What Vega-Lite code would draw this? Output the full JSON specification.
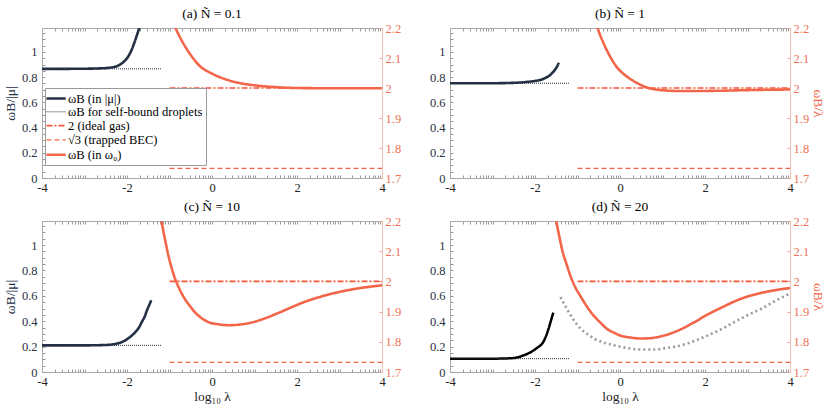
{
  "$schema": "https://vega.github.io/schema/vega-lite/v6.json",
  "padding": {"left": 3, "top": 6, "right": 2, "bottom": 2},
  "background": "white",
  "config": {
    "view": {"stroke": null},
    "font": "Liberation Serif, DejaVu Serif, serif",
    "title": {"font": "Liberation Serif, DejaVu Serif, serif", "fontSize": 13.5, "fontWeight": "normal", "color": "#000", "offset": 2},
    "axis": {"grid": false, "labelFont": "Liberation Serif, DejaVu Serif, serif", "labelFontSize": 12.5, "titleFont": "Liberation Serif, DejaVu Serif, serif", "titleFontSize": 13.5, "titleFontWeight": "normal", "labelOverlap": false, "labelFlush": false, "tickSize": -3, "labelPadding": 6},
    "legend": {"labelFont": "Liberation Serif, DejaVu Serif, serif"}
  },
  "data": {"values": [
    {"p":"a","ax":"L","s":"ωB (in |μ|)","x":-4,"y":0.866},
    {"p":"a","ax":"L","s":"ωB (in |μ|)","x":-3.5,"y":0.866},
    {"p":"a","ax":"L","s":"ωB (in |μ|)","x":-3,"y":0.867},
    {"p":"a","ax":"L","s":"ωB (in |μ|)","x":-2.7,"y":0.869},
    {"p":"a","ax":"L","s":"ωB (in |μ|)","x":-2.5,"y":0.872},
    {"p":"a","ax":"L","s":"ωB (in |μ|)","x":-2.35,"y":0.878},
    {"p":"a","ax":"L","s":"ωB (in |μ|)","x":-2.2,"y":0.893},
    {"p":"a","ax":"L","s":"ωB (in |μ|)","x":-2.1,"y":0.915},
    {"p":"a","ax":"L","s":"ωB (in |μ|)","x":-2.0,"y":0.95},
    {"p":"a","ax":"L","s":"ωB (in |μ|)","x":-1.9,"y":1.01},
    {"p":"a","ax":"L","s":"ωB (in |μ|)","x":-1.82,"y":1.08},
    {"p":"a","ax":"L","s":"ωB (in |μ|)","x":-1.76,"y":1.14},
    {"p":"a","ax":"L","s":"ωB (in |μ|)","x":-1.71,"y":1.19},
    {"p":"a","ax":"L","s":"ωB for self-bound droplets","x":-4,"y":0.866},
    {"p":"a","ax":"L","s":"ωB for self-bound droplets","x":-1.2,"y":0.866},
    {"p":"a","ax":"R","s":"2 (ideal gas)","x":-1,"y":2},
    {"p":"a","ax":"R","s":"2 (ideal gas)","x":4,"y":2},
    {"p":"a","ax":"R","s":"√3 (trapped BEC)","x":-1,"y":1.732},
    {"p":"a","ax":"R","s":"√3 (trapped BEC)","x":4,"y":1.732},
    {"p":"a","ax":"R","s":"ωB (in ω₀)","x":-0.86,"y":2.2},
    {"p":"a","ax":"R","s":"ωB (in ω₀)","x":-0.7,"y":2.155},
    {"p":"a","ax":"R","s":"ωB (in ω₀)","x":-0.5,"y":2.11},
    {"p":"a","ax":"R","s":"ωB (in ω₀)","x":-0.3,"y":2.075},
    {"p":"a","ax":"R","s":"ωB (in ω₀)","x":0,"y":2.048},
    {"p":"a","ax":"R","s":"ωB (in ω₀)","x":0.3,"y":2.03},
    {"p":"a","ax":"R","s":"ωB (in ω₀)","x":0.6,"y":2.018},
    {"p":"a","ax":"R","s":"ωB (in ω₀)","x":1.0,"y":2.009},
    {"p":"a","ax":"R","s":"ωB (in ω₀)","x":1.5,"y":2.003},
    {"p":"a","ax":"R","s":"ωB (in ω₀)","x":2.0,"y":2.0},
    {"p":"a","ax":"R","s":"ωB (in ω₀)","x":3.0,"y":1.999},
    {"p":"a","ax":"R","s":"ωB (in ω₀)","x":4.0,"y":1.999},

    {"p":"b","ax":"L","s":"ωB (in |μ|)","x":-4,"y":0.752},
    {"p":"b","ax":"L","s":"ωB (in |μ|)","x":-3,"y":0.752},
    {"p":"b","ax":"L","s":"ωB (in |μ|)","x":-2.5,"y":0.755},
    {"p":"b","ax":"L","s":"ωB (in |μ|)","x":-2.2,"y":0.762},
    {"p":"b","ax":"L","s":"ωB (in |μ|)","x":-2.0,"y":0.77},
    {"p":"b","ax":"L","s":"ωB (in |μ|)","x":-1.87,"y":0.778},
    {"p":"b","ax":"L","s":"ωB (in |μ|)","x":-1.75,"y":0.795},
    {"p":"b","ax":"L","s":"ωB (in |μ|)","x":-1.64,"y":0.818},
    {"p":"b","ax":"L","s":"ωB (in |μ|)","x":-1.55,"y":0.85},
    {"p":"b","ax":"L","s":"ωB (in |μ|)","x":-1.48,"y":0.885},
    {"p":"b","ax":"L","s":"ωB (in |μ|)","x":-1.44,"y":0.915},
    {"p":"b","ax":"L","s":"ωB for self-bound droplets","x":-4,"y":0.752},
    {"p":"b","ax":"L","s":"ωB for self-bound droplets","x":-1.2,"y":0.752},
    {"p":"b","ax":"R","s":"2 (ideal gas)","x":-1,"y":2},
    {"p":"b","ax":"R","s":"2 (ideal gas)","x":4,"y":2},
    {"p":"b","ax":"R","s":"√3 (trapped BEC)","x":-1,"y":1.732},
    {"p":"b","ax":"R","s":"√3 (trapped BEC)","x":4,"y":1.732},
    {"p":"b","ax":"R","s":"ωB (in ω₀)","x":-0.53,"y":2.2},
    {"p":"b","ax":"R","s":"ωB (in ω₀)","x":-0.42,"y":2.16},
    {"p":"b","ax":"R","s":"ωB (in ω₀)","x":-0.3,"y":2.123},
    {"p":"b","ax":"R","s":"ωB (in ω₀)","x":-0.18,"y":2.092},
    {"p":"b","ax":"R","s":"ωB (in ω₀)","x":-0.06,"y":2.067},
    {"p":"b","ax":"R","s":"ωB (in ω₀)","x":0.1,"y":2.045},
    {"p":"b","ax":"R","s":"ωB (in ω₀)","x":0.255,"y":2.029},
    {"p":"b","ax":"R","s":"ωB (in ω₀)","x":0.45,"y":2.013},
    {"p":"b","ax":"R","s":"ωB (in ω₀)","x":0.65,"y":2.001},
    {"p":"b","ax":"R","s":"ωB (in ω₀)","x":0.85,"y":1.995},
    {"p":"b","ax":"R","s":"ωB (in ω₀)","x":1.04,"y":1.992},
    {"p":"b","ax":"R","s":"ωB (in ω₀)","x":1.4,"y":1.99},
    {"p":"b","ax":"R","s":"ωB (in ω₀)","x":1.83,"y":1.99},
    {"p":"b","ax":"R","s":"ωB (in ω₀)","x":2.4,"y":1.991},
    {"p":"b","ax":"R","s":"ωB (in ω₀)","x":3.01,"y":1.993},
    {"p":"b","ax":"R","s":"ωB (in ω₀)","x":4,"y":1.995},

    {"p":"c","ax":"L","s":"ωB (in |μ|)","x":-4,"y":0.21},
    {"p":"c","ax":"L","s":"ωB (in |μ|)","x":-3,"y":0.21},
    {"p":"c","ax":"L","s":"ωB (in |μ|)","x":-2.5,"y":0.213},
    {"p":"c","ax":"L","s":"ωB (in |μ|)","x":-2.28,"y":0.221},
    {"p":"c","ax":"L","s":"ωB (in |μ|)","x":-2.15,"y":0.232},
    {"p":"c","ax":"L","s":"ωB (in |μ|)","x":-2.04,"y":0.25},
    {"p":"c","ax":"L","s":"ωB (in |μ|)","x":-1.92,"y":0.278},
    {"p":"c","ax":"L","s":"ωB (in |μ|)","x":-1.8,"y":0.316},
    {"p":"c","ax":"L","s":"ωB (in |μ|)","x":-1.72,"y":0.35},
    {"p":"c","ax":"L","s":"ωB (in |μ|)","x":-1.65,"y":0.395},
    {"p":"c","ax":"L","s":"ωB (in |μ|)","x":-1.58,"y":0.44},
    {"p":"c","ax":"L","s":"ωB (in |μ|)","x":-1.53,"y":0.487},
    {"p":"c","ax":"L","s":"ωB (in |μ|)","x":-1.48,"y":0.525},
    {"p":"c","ax":"L","s":"ωB (in |μ|)","x":-1.43,"y":0.566},
    {"p":"c","ax":"L","s":"ωB for self-bound droplets","x":-4,"y":0.21},
    {"p":"c","ax":"L","s":"ωB for self-bound droplets","x":-1.2,"y":0.21},
    {"p":"c","ax":"R","s":"2 (ideal gas)","x":-1,"y":2},
    {"p":"c","ax":"R","s":"2 (ideal gas)","x":4,"y":2},
    {"p":"c","ax":"R","s":"√3 (trapped BEC)","x":-1,"y":1.732},
    {"p":"c","ax":"R","s":"√3 (trapped BEC)","x":4,"y":1.732},
    {"p":"c","ax":"R","s":"ωB (in ω₀)","x":-1.19,"y":2.2},
    {"p":"c","ax":"R","s":"ωB (in ω₀)","x":-1.1,"y":2.135},
    {"p":"c","ax":"R","s":"ωB (in ω₀)","x":-1.02,"y":2.082},
    {"p":"c","ax":"R","s":"ωB (in ω₀)","x":-0.94,"y":2.04},
    {"p":"c","ax":"R","s":"ωB (in ω₀)","x":-0.86,"y":2.006},
    {"p":"c","ax":"R","s":"ωB (in ω₀)","x":-0.75,"y":1.97},
    {"p":"c","ax":"R","s":"ωB (in ω₀)","x":-0.63,"y":1.94},
    {"p":"c","ax":"R","s":"ωB (in ω₀)","x":-0.5,"y":1.915},
    {"p":"c","ax":"R","s":"ωB (in ω₀)","x":-0.39,"y":1.896},
    {"p":"c","ax":"R","s":"ωB (in ω₀)","x":-0.25,"y":1.879},
    {"p":"c","ax":"R","s":"ωB (in ω₀)","x":-0.08,"y":1.865},
    {"p":"c","ax":"R","s":"ωB (in ω₀)","x":0.15,"y":1.858},
    {"p":"c","ax":"R","s":"ωB (in ω₀)","x":0.4,"y":1.855},
    {"p":"c","ax":"R","s":"ωB (in ω₀)","x":0.65,"y":1.857},
    {"p":"c","ax":"R","s":"ωB (in ω₀)","x":0.94,"y":1.864},
    {"p":"c","ax":"R","s":"ωB (in ω₀)","x":1.25,"y":1.878},
    {"p":"c","ax":"R","s":"ωB (in ω₀)","x":1.57,"y":1.896},
    {"p":"c","ax":"R","s":"ωB (in ω₀)","x":1.85,"y":1.913},
    {"p":"c","ax":"R","s":"ωB (in ω₀)","x":2.12,"y":1.929},
    {"p":"c","ax":"R","s":"ωB (in ω₀)","x":2.5,"y":1.947},
    {"p":"c","ax":"R","s":"ωB (in ω₀)","x":2.9,"y":1.962},
    {"p":"c","ax":"R","s":"ωB (in ω₀)","x":3.4,"y":1.976},
    {"p":"c","ax":"R","s":"ωB (in ω₀)","x":4,"y":1.987},

    {"p":"d","ax":"L","s":"k","x":-4,"y":0.105},
    {"p":"d","ax":"L","s":"k","x":-3,"y":0.105},
    {"p":"d","ax":"L","s":"k","x":-2.5,"y":0.11},
    {"p":"d","ax":"L","s":"k","x":-2.27,"y":0.131},
    {"p":"d","ax":"L","s":"k","x":-2.15,"y":0.148},
    {"p":"d","ax":"L","s":"k","x":-2.03,"y":0.171},
    {"p":"d","ax":"L","s":"k","x":-1.93,"y":0.195},
    {"p":"d","ax":"L","s":"k","x":-1.83,"y":0.224},
    {"p":"d","ax":"L","s":"k","x":-1.75,"y":0.275},
    {"p":"d","ax":"L","s":"k","x":-1.68,"y":0.342},
    {"p":"d","ax":"L","s":"k","x":-1.62,"y":0.41},
    {"p":"d","ax":"L","s":"k","x":-1.57,"y":0.468},
    {"p":"d","ax":"L","s":"ωB for self-bound droplets","x":-4,"y":0.105},
    {"p":"d","ax":"L","s":"ωB for self-bound droplets","x":-1.2,"y":0.105},
    {"p":"d","ax":"L","s":"g","x":-1.4,"y":0.59},
    {"p":"d","ax":"L","s":"g","x":-1.28,"y":0.515},
    {"p":"d","ax":"L","s":"g","x":-1.16,"y":0.447},
    {"p":"d","ax":"L","s":"g","x":-1.05,"y":0.39},
    {"p":"d","ax":"L","s":"g","x":-0.93,"y":0.342},
    {"p":"d","ax":"L","s":"g","x":-0.77,"y":0.3},
    {"p":"d","ax":"L","s":"g","x":-0.61,"y":0.263},
    {"p":"d","ax":"L","s":"g","x":-0.4,"y":0.234},
    {"p":"d","ax":"L","s":"g","x":-0.14,"y":0.21},
    {"p":"d","ax":"L","s":"g","x":0.15,"y":0.19},
    {"p":"d","ax":"L","s":"g","x":0.49,"y":0.177},
    {"p":"d","ax":"L","s":"g","x":0.81,"y":0.177},
    {"p":"d","ax":"L","s":"g","x":1.1,"y":0.19},
    {"p":"d","ax":"L","s":"g","x":1.44,"y":0.21},
    {"p":"d","ax":"L","s":"g","x":1.75,"y":0.245},
    {"p":"d","ax":"L","s":"g","x":2.07,"y":0.289},
    {"p":"d","ax":"L","s":"g","x":2.4,"y":0.34},
    {"p":"d","ax":"L","s":"g","x":2.7,"y":0.395},
    {"p":"d","ax":"L","s":"g","x":3.0,"y":0.447},
    {"p":"d","ax":"L","s":"g","x":3.33,"y":0.5},
    {"p":"d","ax":"L","s":"g","x":3.65,"y":0.56},
    {"p":"d","ax":"L","s":"g","x":4,"y":0.618},
    {"p":"d","ax":"R","s":"2 (ideal gas)","x":-1,"y":2},
    {"p":"d","ax":"R","s":"2 (ideal gas)","x":4,"y":2},
    {"p":"d","ax":"R","s":"√3 (trapped BEC)","x":-1,"y":1.732},
    {"p":"d","ax":"R","s":"√3 (trapped BEC)","x":4,"y":1.732},
    {"p":"d","ax":"R","s":"ωB (in ω₀)","x":-1.5,"y":2.2},
    {"p":"d","ax":"R","s":"ωB (in ω₀)","x":-1.43,"y":2.15},
    {"p":"d","ax":"R","s":"ωB (in ω₀)","x":-1.36,"y":2.104},
    {"p":"d","ax":"R","s":"ωB (in ω₀)","x":-1.26,"y":2.058},
    {"p":"d","ax":"R","s":"ωB (in ω₀)","x":-1.16,"y":2.016},
    {"p":"d","ax":"R","s":"ωB (in ω₀)","x":-1.05,"y":1.98},
    {"p":"d","ax":"R","s":"ωB (in ω₀)","x":-0.93,"y":1.951},
    {"p":"d","ax":"R","s":"ωB (in ω₀)","x":-0.77,"y":1.915},
    {"p":"d","ax":"R","s":"ωB (in ω₀)","x":-0.61,"y":1.885},
    {"p":"d","ax":"R","s":"ωB (in ω₀)","x":-0.45,"y":1.862},
    {"p":"d","ax":"R","s":"ωB (in ω₀)","x":-0.3,"y":1.842},
    {"p":"d","ax":"R","s":"ωB (in ω₀)","x":-0.14,"y":1.83},
    {"p":"d","ax":"R","s":"ωB (in ω₀)","x":0.02,"y":1.82},
    {"p":"d","ax":"R","s":"ωB (in ω₀)","x":0.25,"y":1.814},
    {"p":"d","ax":"R","s":"ωB (in ω₀)","x":0.49,"y":1.811},
    {"p":"d","ax":"R","s":"ωB (in ω₀)","x":0.72,"y":1.812},
    {"p":"d","ax":"R","s":"ωB (in ω₀)","x":0.96,"y":1.818},
    {"p":"d","ax":"R","s":"ωB (in ω₀)","x":1.2,"y":1.828},
    {"p":"d","ax":"R","s":"ωB (in ω₀)","x":1.44,"y":1.842},
    {"p":"d","ax":"R","s":"ωB (in ω₀)","x":1.75,"y":1.865},
    {"p":"d","ax":"R","s":"ωB (in ω₀)","x":2.07,"y":1.891},
    {"p":"d","ax":"R","s":"ωB (in ω₀)","x":2.4,"y":1.914},
    {"p":"d","ax":"R","s":"ωB (in ω₀)","x":2.7,"y":1.934},
    {"p":"d","ax":"R","s":"ωB (in ω₀)","x":3.0,"y":1.95},
    {"p":"d","ax":"R","s":"ωB (in ω₀)","x":3.33,"y":1.962},
    {"p":"d","ax":"R","s":"ωB (in ω₀)","x":3.65,"y":1.971},
    {"p":"d","ax":"R","s":"ωB (in ω₀)","x":4,"y":1.978}
  ]},
  "spacing": 5,
  "vconcat": [
    {"spacing": 28, "hconcat": [
      {"width": 340, "height": 150, "title": {"text": "(a) Ñ = 0.1", "font": "Liberation Serif, DejaVu Serif, serif", "fontWeight": "normal"},
       "resolve": {"scale": {"y": "independent"}, "axis": {"x": "independent"}},
       "layer": [
        {"transform": [{"filter": "datum.p == 'a' && datum.ax == 'L'"}],
         "mark": {"type": "line", "interpolate": "monotone", "clip": true},
         "encoding": {
          "x": {"field": "x", "type": "quantitative", "scale": {"domain": [-4, 4]}, "axis": {"orient": "bottom", "title": null, "values": [-4,-3.699,-3.523,-3.398,-3.301,-3.222,-3.155,-3.097,-3.046,-3,-2.699,-2.523,-2.398,-2.301,-2.222,-2.155,-2.097,-2.046,-2,-1.699,-1.523,-1.398,-1.301,-1.222,-1.155,-1.097,-1.046,-1,-0.699,-0.523,-0.398,-0.301,-0.222,-0.155,-0.097,-0.046,0,0.301,0.477,0.602,0.699,0.778,0.845,0.903,0.954,1,1.301,1.477,1.602,1.699,1.778,1.845,1.903,1.954,2,2.301,2.477,2.602,2.699,2.778,2.845,2.903,2.954,3,3.301,3.477,3.602,3.699,3.778,3.845,3.903,3.954,4], "labelExpr": "indexof([-4,-2,0,2,4], datum.value) >= 0 ? '' + datum.value : ''", "domainColor": "#aaaaaa", "tickColor": "#999999", "labelColor": "#222222"}},
          "y": {"field": "y", "type": "quantitative", "scale": {"domain": [0, 1.19]}, "axis": {"orient": "left", "title": "ωB/|μ|", "titleColor": "#243044", "values": [0,0.05,0.1,0.15,0.2,0.25,0.3,0.35,0.4,0.45,0.5,0.55,0.6,0.65,0.7,0.75,0.8,0.85,0.9,0.95,1,1.05,1.1,1.15], "labelExpr": "round(datum.value*100) % 20 == 0 ? '' + round(datum.value*10)/10 : ''", "domainColor": "#aaaaaa", "tickColor": "#999999", "labelColor": "#2a3040", "labelPadding": 8}},
          "color": {"field": "s", "type": "nominal", "scale": {"type": "ordinal", "domain": ["ωB (in |μ|)","ωB for self-bound droplets","2 (ideal gas)","√3 (trapped BEC)","ωB (in ω₀)","k","g"], "range": ["#243044","#243044","#f4583a","#f26548","#f26548","#000000","#9a9a9a"]}, "legend": {"title": null, "orient": "none", "legendX": 3, "legendY": 60, "values": ["ωB (in |μ|)","ωB for self-bound droplets","2 (ideal gas)","√3 (trapped BEC)","ωB (in ω₀)"], "symbolType": "M-1.5,0H1.7", "symbolSize": 144, "labelFont": "Liberation Serif, DejaVu Serif, serif", "labelFontSize": 12.5, "labelColor": "#000", "strokeColor": "#999", "fillColor": "#fff", "padding": 3, "rowPadding": 0.3, "labelOffset": 5}},
          "strokeDash": {"field": "s", "type": "nominal", "scale": {"type": "ordinal", "domain": ["ωB (in |μ|)","ωB for self-bound droplets","2 (ideal gas)","√3 (trapped BEC)","ωB (in ω₀)","k","g"], "range": [[1,0],[1,1],[6,2,2,2],[5,3],[1,0],[1,0],[2,3]]}, "legend": {"title": null, "orient": "none", "legendX": 3, "legendY": 60, "values": ["ωB (in |μ|)","ωB for self-bound droplets","2 (ideal gas)","√3 (trapped BEC)","ωB (in ω₀)"], "symbolType": "M-1.5,0H1.7", "symbolSize": 144, "labelFont": "Liberation Serif, DejaVu Serif, serif", "labelFontSize": 12.5, "labelColor": "#000", "strokeColor": "#999", "fillColor": "#fff", "padding": 3, "rowPadding": 0.3, "labelOffset": 5}},
          "strokeWidth": {"field": "s", "type": "nominal", "scale": {"type": "ordinal", "domain": ["ωB (in |μ|)","ωB for self-bound droplets","2 (ideal gas)","√3 (trapped BEC)","ωB (in ω₀)","k","g"], "range": [2.6,1,1.7,1.3,2.6,2.5,2.6]}, "legend": {"title": null, "orient": "none", "legendX": 3, "legendY": 60, "values": ["ωB (in |μ|)","ωB for self-bound droplets","2 (ideal gas)","√3 (trapped BEC)","ωB (in ω₀)"], "symbolType": "M-1.5,0H1.7", "symbolSize": 144, "labelFont": "Liberation Serif, DejaVu Serif, serif", "labelFontSize": 12.5, "labelColor": "#000", "strokeColor": "#999", "fillColor": "#fff", "padding": 3, "rowPadding": 0.3, "labelOffset": 5}}
         }},
        {"transform": [{"filter": "datum.p == 'a' && datum.ax == 'R'"}],
         "mark": {"type": "line", "interpolate": "monotone", "clip": true},
         "encoding": {
          "x": {"field": "x", "type": "quantitative", "scale": {"domain": [-4, 4]}, "axis": {"orient": "top", "title": null, "labels": false, "values": [-4,-3.699,-3.523,-3.398,-3.301,-3.222,-3.155,-3.097,-3.046,-3,-2.699,-2.523,-2.398,-2.301,-2.222,-2.155,-2.097,-2.046,-2,-1.699,-1.523,-1.398,-1.301,-1.222,-1.155,-1.097,-1.046,-1,-0.699,-0.523,-0.398,-0.301,-0.222,-0.155,-0.097,-0.046,0,0.301,0.477,0.602,0.699,0.778,0.845,0.903,0.954,1,1.301,1.477,1.602,1.699,1.778,1.845,1.903,1.954,2,2.301,2.477,2.602,2.699,2.778,2.845,2.903,2.954,3,3.301,3.477,3.602,3.699,3.778,3.845,3.903,3.954,4], "domainColor": "#aaaaaa", "tickColor": "#999999"}},
          "y": {"field": "y", "type": "quantitative", "scale": {"domain": [1.7, 2.2]}, "axis": {"orient": "right", "title": null, "values": [1.7,1.8,1.9,2,2.1,2.2], "labelExpr": "'' + round(datum.value*10)/10", "domainColor": "#f8bfb0", "tickColor": "#f4a090", "labelColor": "#f07358"}},
          "color": {"field": "s", "type": "nominal", "scale": {"type": "ordinal", "domain": ["ωB (in |μ|)","ωB for self-bound droplets","2 (ideal gas)","√3 (trapped BEC)","ωB (in ω₀)","k","g"], "range": ["#243044","#243044","#f4583a","#f26548","#f26548","#000000","#9a9a9a"]}},
          "strokeDash": {"field": "s", "type": "nominal", "scale": {"type": "ordinal", "domain": ["ωB (in |μ|)","ωB for self-bound droplets","2 (ideal gas)","√3 (trapped BEC)","ωB (in ω₀)","k","g"], "range": [[1,0],[1,1],[6,2,2,2],[5,3],[1,0],[1,0],[2,3]]}},
          "strokeWidth": {"field": "s", "type": "nominal", "scale": {"type": "ordinal", "domain": ["ωB (in |μ|)","ωB for self-bound droplets","2 (ideal gas)","√3 (trapped BEC)","ωB (in ω₀)","k","g"], "range": [2.6,1,1.7,1.3,2.6,2.5,2.6]}}
         }}
       ]},
      {"width": 340, "height": 150, "title": {"text": "(b) Ñ = 1", "font": "Liberation Serif, DejaVu Serif, serif", "fontWeight": "normal"},
       "resolve": {"scale": {"y": "independent"}, "axis": {"x": "independent"}},
       "layer": [
        {"transform": [{"filter": "datum.p == 'b' && datum.ax == 'L'"}],
         "mark": {"type": "line", "interpolate": "monotone", "clip": true},
         "encoding": {
          "x": {"field": "x", "type": "quantitative", "scale": {"domain": [-4, 4]}, "axis": {"orient": "bottom", "title": null, "values": [-4,-3.699,-3.523,-3.398,-3.301,-3.222,-3.155,-3.097,-3.046,-3,-2.699,-2.523,-2.398,-2.301,-2.222,-2.155,-2.097,-2.046,-2,-1.699,-1.523,-1.398,-1.301,-1.222,-1.155,-1.097,-1.046,-1,-0.699,-0.523,-0.398,-0.301,-0.222,-0.155,-0.097,-0.046,0,0.301,0.477,0.602,0.699,0.778,0.845,0.903,0.954,1,1.301,1.477,1.602,1.699,1.778,1.845,1.903,1.954,2,2.301,2.477,2.602,2.699,2.778,2.845,2.903,2.954,3,3.301,3.477,3.602,3.699,3.778,3.845,3.903,3.954,4], "labelExpr": "indexof([-4,-2,0,2,4], datum.value) >= 0 ? '' + datum.value : ''", "domainColor": "#aaaaaa", "tickColor": "#999999", "labelColor": "#222222"}},
          "y": {"field": "y", "type": "quantitative", "scale": {"domain": [0, 1.19]}, "axis": {"orient": "left", "title": null, "values": [0,0.05,0.1,0.15,0.2,0.25,0.3,0.35,0.4,0.45,0.5,0.55,0.6,0.65,0.7,0.75,0.8,0.85,0.9,0.95,1,1.05,1.1,1.15], "labelExpr": "round(datum.value*100) % 20 == 0 ? '' + round(datum.value*10)/10 : ''", "domainColor": "#aaaaaa", "tickColor": "#999999", "labelColor": "#2a3040", "labelPadding": 8}},
          "color": {"field": "s", "type": "nominal", "scale": {"type": "ordinal", "domain": ["ωB (in |μ|)","ωB for self-bound droplets","2 (ideal gas)","√3 (trapped BEC)","ωB (in ω₀)","k","g"], "range": ["#243044","#243044","#f4583a","#f26548","#f26548","#000000","#9a9a9a"]}},
          "strokeDash": {"field": "s", "type": "nominal", "scale": {"type": "ordinal", "domain": ["ωB (in |μ|)","ωB for self-bound droplets","2 (ideal gas)","√3 (trapped BEC)","ωB (in ω₀)","k","g"], "range": [[1,0],[1,1],[6,2,2,2],[5,3],[1,0],[1,0],[2,3]]}},
          "strokeWidth": {"field": "s", "type": "nominal", "scale": {"type": "ordinal", "domain": ["ωB (in |μ|)","ωB for self-bound droplets","2 (ideal gas)","√3 (trapped BEC)","ωB (in ω₀)","k","g"], "range": [2.6,1,1.7,1.3,2.6,2.5,2.6]}}
         }},
        {"transform": [{"filter": "datum.p == 'b' && datum.ax == 'R'"}],
         "mark": {"type": "line", "interpolate": "monotone", "clip": true},
         "encoding": {
          "x": {"field": "x", "type": "quantitative", "scale": {"domain": [-4, 4]}, "axis": {"orient": "top", "title": null, "labels": false, "values": [-4,-3.699,-3.523,-3.398,-3.301,-3.222,-3.155,-3.097,-3.046,-3,-2.699,-2.523,-2.398,-2.301,-2.222,-2.155,-2.097,-2.046,-2,-1.699,-1.523,-1.398,-1.301,-1.222,-1.155,-1.097,-1.046,-1,-0.699,-0.523,-0.398,-0.301,-0.222,-0.155,-0.097,-0.046,0,0.301,0.477,0.602,0.699,0.778,0.845,0.903,0.954,1,1.301,1.477,1.602,1.699,1.778,1.845,1.903,1.954,2,2.301,2.477,2.602,2.699,2.778,2.845,2.903,2.954,3,3.301,3.477,3.602,3.699,3.778,3.845,3.903,3.954,4], "domainColor": "#aaaaaa", "tickColor": "#999999"}},
          "y": {"field": "y", "type": "quantitative", "scale": {"domain": [1.7, 2.2]}, "axis": {"orient": "right", "title": "ωB/λ", "titleColor": "#f26548", "titlePadding": 2, "values": [1.7,1.8,1.9,2,2.1,2.2], "labelExpr": "'' + round(datum.value*10)/10", "domainColor": "#f8bfb0", "tickColor": "#f4a090", "labelColor": "#f07358"}},
          "color": {"field": "s", "type": "nominal", "scale": {"type": "ordinal", "domain": ["ωB (in |μ|)","ωB for self-bound droplets","2 (ideal gas)","√3 (trapped BEC)","ωB (in ω₀)","k","g"], "range": ["#243044","#243044","#f4583a","#f26548","#f26548","#000000","#9a9a9a"]}},
          "strokeDash": {"field": "s", "type": "nominal", "scale": {"type": "ordinal", "domain": ["ωB (in |μ|)","ωB for self-bound droplets","2 (ideal gas)","√3 (trapped BEC)","ωB (in ω₀)","k","g"], "range": [[1,0],[1,1],[6,2,2,2],[5,3],[1,0],[1,0],[2,3]]}},
          "strokeWidth": {"field": "s", "type": "nominal", "scale": {"type": "ordinal", "domain": ["ωB (in |μ|)","ωB for self-bound droplets","2 (ideal gas)","√3 (trapped BEC)","ωB (in ω₀)","k","g"], "range": [2.6,1,1.7,1.3,2.6,2.5,2.6]}}
         }}
       ]}
    ]},
    {"spacing": 28, "hconcat": [
      {"width": 340, "height": 151, "title": {"text": "(c) Ñ = 10", "font": "Liberation Serif, DejaVu Serif, serif", "fontWeight": "normal"},
       "resolve": {"scale": {"y": "independent"}, "axis": {"x": "independent"}},
       "layer": [
        {"transform": [{"filter": "datum.p == 'c' && datum.ax == 'L'"}],
         "mark": {"type": "line", "interpolate": "monotone", "clip": true},
         "encoding": {
          "x": {"field": "x", "type": "quantitative", "scale": {"domain": [-4, 4]}, "axis": {"orient": "bottom", "title": "log₁₀ λ", "values": [-4,-3.699,-3.523,-3.398,-3.301,-3.222,-3.155,-3.097,-3.046,-3,-2.699,-2.523,-2.398,-2.301,-2.222,-2.155,-2.097,-2.046,-2,-1.699,-1.523,-1.398,-1.301,-1.222,-1.155,-1.097,-1.046,-1,-0.699,-0.523,-0.398,-0.301,-0.222,-0.155,-0.097,-0.046,0,0.301,0.477,0.602,0.699,0.778,0.845,0.903,0.954,1,1.301,1.477,1.602,1.699,1.778,1.845,1.903,1.954,2,2.301,2.477,2.602,2.699,2.778,2.845,2.903,2.954,3,3.301,3.477,3.602,3.699,3.778,3.845,3.903,3.954,4], "labelExpr": "indexof([-4,-2,0,2,4], datum.value) >= 0 ? '' + datum.value : ''", "domainColor": "#aaaaaa", "tickColor": "#999999", "labelColor": "#222222", "titleColor": "#222222", "titlePadding": 2}},
          "y": {"field": "y", "type": "quantitative", "scale": {"domain": [0, 1.19]}, "axis": {"orient": "left", "title": "ωB/|μ|", "titleColor": "#243044", "values": [0,0.05,0.1,0.15,0.2,0.25,0.3,0.35,0.4,0.45,0.5,0.55,0.6,0.65,0.7,0.75,0.8,0.85,0.9,0.95,1,1.05,1.1,1.15], "labelExpr": "round(datum.value*100) % 20 == 0 ? '' + round(datum.value*10)/10 : ''", "domainColor": "#aaaaaa", "tickColor": "#999999", "labelColor": "#2a3040", "labelPadding": 8}},
          "color": {"field": "s", "type": "nominal", "scale": {"type": "ordinal", "domain": ["ωB (in |μ|)","ωB for self-bound droplets","2 (ideal gas)","√3 (trapped BEC)","ωB (in ω₀)","k","g"], "range": ["#243044","#243044","#f4583a","#f26548","#f26548","#000000","#9a9a9a"]}},
          "strokeDash": {"field": "s", "type": "nominal", "scale": {"type": "ordinal", "domain": ["ωB (in |μ|)","ωB for self-bound droplets","2 (ideal gas)","√3 (trapped BEC)","ωB (in ω₀)","k","g"], "range": [[1,0],[1,1],[6,2,2,2],[5,3],[1,0],[1,0],[2,3]]}},
          "strokeWidth": {"field": "s", "type": "nominal", "scale": {"type": "ordinal", "domain": ["ωB (in |μ|)","ωB for self-bound droplets","2 (ideal gas)","√3 (trapped BEC)","ωB (in ω₀)","k","g"], "range": [2.6,1,1.7,1.3,2.6,2.5,2.6]}}
         }},
        {"transform": [{"filter": "datum.p == 'c' && datum.ax == 'R'"}],
         "mark": {"type": "line", "interpolate": "monotone", "clip": true},
         "encoding": {
          "x": {"field": "x", "type": "quantitative", "scale": {"domain": [-4, 4]}, "axis": {"orient": "top", "title": null, "labels": false, "values": [-4,-3.699,-3.523,-3.398,-3.301,-3.222,-3.155,-3.097,-3.046,-3,-2.699,-2.523,-2.398,-2.301,-2.222,-2.155,-2.097,-2.046,-2,-1.699,-1.523,-1.398,-1.301,-1.222,-1.155,-1.097,-1.046,-1,-0.699,-0.523,-0.398,-0.301,-0.222,-0.155,-0.097,-0.046,0,0.301,0.477,0.602,0.699,0.778,0.845,0.903,0.954,1,1.301,1.477,1.602,1.699,1.778,1.845,1.903,1.954,2,2.301,2.477,2.602,2.699,2.778,2.845,2.903,2.954,3,3.301,3.477,3.602,3.699,3.778,3.845,3.903,3.954,4], "domainColor": "#aaaaaa", "tickColor": "#999999"}},
          "y": {"field": "y", "type": "quantitative", "scale": {"domain": [1.7, 2.2]}, "axis": {"orient": "right", "title": null, "values": [1.7,1.8,1.9,2,2.1,2.2], "labelExpr": "'' + round(datum.value*10)/10", "domainColor": "#f8bfb0", "tickColor": "#f4a090", "labelColor": "#f07358"}},
          "color": {"field": "s", "type": "nominal", "scale": {"type": "ordinal", "domain": ["ωB (in |μ|)","ωB for self-bound droplets","2 (ideal gas)","√3 (trapped BEC)","ωB (in ω₀)","k","g"], "range": ["#243044","#243044","#f4583a","#f26548","#f26548","#000000","#9a9a9a"]}},
          "strokeDash": {"field": "s", "type": "nominal", "scale": {"type": "ordinal", "domain": ["ωB (in |μ|)","ωB for self-bound droplets","2 (ideal gas)","√3 (trapped BEC)","ωB (in ω₀)","k","g"], "range": [[1,0],[1,1],[6,2,2,2],[5,3],[1,0],[1,0],[2,3]]}},
          "strokeWidth": {"field": "s", "type": "nominal", "scale": {"type": "ordinal", "domain": ["ωB (in |μ|)","ωB for self-bound droplets","2 (ideal gas)","√3 (trapped BEC)","ωB (in ω₀)","k","g"], "range": [2.6,1,1.7,1.3,2.6,2.5,2.6]}}
         }}
       ]},
      {"width": 340, "height": 151, "title": {"text": "(d) Ñ = 20", "font": "Liberation Serif, DejaVu Serif, serif", "fontWeight": "normal"},
       "resolve": {"scale": {"y": "independent"}, "axis": {"x": "independent"}},
       "layer": [
        {"transform": [{"filter": "datum.p == 'd' && datum.ax == 'L'"}],
         "mark": {"type": "line", "interpolate": "monotone", "clip": true},
         "encoding": {
          "x": {"field": "x", "type": "quantitative", "scale": {"domain": [-4, 4]}, "axis": {"orient": "bottom", "title": "log₁₀ λ", "values": [-4,-3.699,-3.523,-3.398,-3.301,-3.222,-3.155,-3.097,-3.046,-3,-2.699,-2.523,-2.398,-2.301,-2.222,-2.155,-2.097,-2.046,-2,-1.699,-1.523,-1.398,-1.301,-1.222,-1.155,-1.097,-1.046,-1,-0.699,-0.523,-0.398,-0.301,-0.222,-0.155,-0.097,-0.046,0,0.301,0.477,0.602,0.699,0.778,0.845,0.903,0.954,1,1.301,1.477,1.602,1.699,1.778,1.845,1.903,1.954,2,2.301,2.477,2.602,2.699,2.778,2.845,2.903,2.954,3,3.301,3.477,3.602,3.699,3.778,3.845,3.903,3.954,4], "labelExpr": "indexof([-4,-2,0,2,4], datum.value) >= 0 ? '' + datum.value : ''", "domainColor": "#aaaaaa", "tickColor": "#999999", "labelColor": "#222222", "titleColor": "#222222", "titlePadding": 2}},
          "y": {"field": "y", "type": "quantitative", "scale": {"domain": [0, 1.19]}, "axis": {"orient": "left", "title": null, "values": [0,0.05,0.1,0.15,0.2,0.25,0.3,0.35,0.4,0.45,0.5,0.55,0.6,0.65,0.7,0.75,0.8,0.85,0.9,0.95,1,1.05,1.1,1.15], "labelExpr": "round(datum.value*100) % 20 == 0 ? '' + round(datum.value*10)/10 : ''", "domainColor": "#aaaaaa", "tickColor": "#999999", "labelColor": "#2a3040", "labelPadding": 8}},
          "color": {"field": "s", "type": "nominal", "scale": {"type": "ordinal", "domain": ["ωB (in |μ|)","ωB for self-bound droplets","2 (ideal gas)","√3 (trapped BEC)","ωB (in ω₀)","k","g"], "range": ["#243044","#243044","#f4583a","#f26548","#f26548","#000000","#9a9a9a"]}},
          "strokeDash": {"field": "s", "type": "nominal", "scale": {"type": "ordinal", "domain": ["ωB (in |μ|)","ωB for self-bound droplets","2 (ideal gas)","√3 (trapped BEC)","ωB (in ω₀)","k","g"], "range": [[1,0],[1,1],[6,2,2,2],[5,3],[1,0],[1,0],[2,3]]}},
          "strokeWidth": {"field": "s", "type": "nominal", "scale": {"type": "ordinal", "domain": ["ωB (in |μ|)","ωB for self-bound droplets","2 (ideal gas)","√3 (trapped BEC)","ωB (in ω₀)","k","g"], "range": [2.6,1,1.7,1.3,2.6,2.5,2.6]}}
         }},
        {"transform": [{"filter": "datum.p == 'd' && datum.ax == 'R'"}],
         "mark": {"type": "line", "interpolate": "monotone", "clip": true},
         "encoding": {
          "x": {"field": "x", "type": "quantitative", "scale": {"domain": [-4, 4]}, "axis": {"orient": "top", "title": null, "labels": false, "values": [-4,-3.699,-3.523,-3.398,-3.301,-3.222,-3.155,-3.097,-3.046,-3,-2.699,-2.523,-2.398,-2.301,-2.222,-2.155,-2.097,-2.046,-2,-1.699,-1.523,-1.398,-1.301,-1.222,-1.155,-1.097,-1.046,-1,-0.699,-0.523,-0.398,-0.301,-0.222,-0.155,-0.097,-0.046,0,0.301,0.477,0.602,0.699,0.778,0.845,0.903,0.954,1,1.301,1.477,1.602,1.699,1.778,1.845,1.903,1.954,2,2.301,2.477,2.602,2.699,2.778,2.845,2.903,2.954,3,3.301,3.477,3.602,3.699,3.778,3.845,3.903,3.954,4], "domainColor": "#aaaaaa", "tickColor": "#999999"}},
          "y": {"field": "y", "type": "quantitative", "scale": {"domain": [1.7, 2.2]}, "axis": {"orient": "right", "title": "ωB/λ", "titleColor": "#f26548", "titlePadding": 2, "values": [1.7,1.8,1.9,2,2.1,2.2], "labelExpr": "'' + round(datum.value*10)/10", "domainColor": "#f8bfb0", "tickColor": "#f4a090", "labelColor": "#f07358"}},
          "color": {"field": "s", "type": "nominal", "scale": {"type": "ordinal", "domain": ["ωB (in |μ|)","ωB for self-bound droplets","2 (ideal gas)","√3 (trapped BEC)","ωB (in ω₀)","k","g"], "range": ["#243044","#243044","#f4583a","#f26548","#f26548","#000000","#9a9a9a"]}},
          "strokeDash": {"field": "s", "type": "nominal", "scale": {"type": "ordinal", "domain": ["ωB (in |μ|)","ωB for self-bound droplets","2 (ideal gas)","√3 (trapped BEC)","ωB (in ω₀)","k","g"], "range": [[1,0],[1,1],[6,2,2,2],[5,3],[1,0],[1,0],[2,3]]}},
          "strokeWidth": {"field": "s", "type": "nominal", "scale": {"type": "ordinal", "domain": ["ωB (in |μ|)","ωB for self-bound droplets","2 (ideal gas)","√3 (trapped BEC)","ωB (in ω₀)","k","g"], "range": [2.6,1,1.7,1.3,2.6,2.5,2.6]}}
         }}
       ]}
    ]}
  ]
}
